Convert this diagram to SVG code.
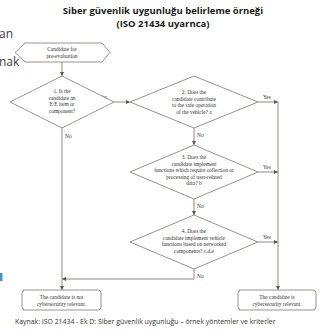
<svg xmlns="http://www.w3.org/2000/svg" width="328" height="331" viewBox="0 0 328 331">
<defs>
<style>
.title{font-family:"Open Sans","Liberation Sans",sans-serif;font-weight:bold;font-size:9.5px;fill:#1a1a1a;text-anchor:middle}
.side{font-family:"Open Sans","Liberation Sans",sans-serif;font-size:12px;fill:#404040}
.cap{font-family:"Open Sans","Liberation Sans",sans-serif;font-size:6.9px;fill:#333}
.shape{fill:#fff;stroke:#9a928c;stroke-width:1}
.nt{font-family:"Liberation Serif",serif;font-size:5.4px;fill:#333;text-anchor:middle}
.lbl{font-family:"Liberation Serif",serif;font-size:5.4px;fill:#333}
.con{fill:none;stroke:#8f8883;stroke-width:1}
</style>
<marker id="ah" viewBox="0 0 6 6" refX="6" refY="3" markerWidth="4" markerHeight="4" orient="auto" markerUnits="userSpaceOnUse">
<path d="M0,0 L6,3 L0,6 Z" fill="#5a5450"/>
</marker>
</defs>
<rect width="328" height="331" fill="#fff"/>
<text class="title" x="163" y="14">Siber güvenlik uygunluğu belirleme örneği</text>
<text class="title" x="163" y="27">(ISO 21434 uyarnca)</text>
<text class="side" x="-1" y="38">an</text>
<text class="side" x="-1" y="66">nak</text>
<rect x="0" y="273" width="2.5" height="8" fill="#4a8fd0"/>

<g id="connectors">
<path class="con" d="M62,62 V76" marker-end="url(#ah)"/>
<path class="con" d="M114,102 H130" marker-end="url(#ah)"/>
<path class="con" d="M258,102 H278" marker-end="url(#ah)"/>
<path class="con" d="M258,172 H278" marker-end="url(#ah)"/>
<path class="con" d="M258,242 H278" marker-end="url(#ah)"/>
<path class="con" d="M278,102 V290" marker-end="url(#ah)"/>
<path class="con" d="M194,128 V145" marker-end="url(#ah)"/>
<path class="con" d="M194,199 V215" marker-end="url(#ah)"/>
<path class="con" d="M194,269 V279 H62" marker-end="url(#ah)"/>
<path class="con" d="M62,128 V290" marker-end="url(#ah)"/>
<text class="lbl" x="99" y="99">Yes</text>
<text class="lbl" x="263" y="99">Yes</text>
<text class="lbl" x="263" y="169">Yes</text>
<text class="lbl" x="263" y="239">Yes</text>
<text class="lbl" x="65" y="138">No</text>
<text class="lbl" x="197" y="137">No</text>
<text class="lbl" x="197" y="208">No</text>
<text class="lbl" x="197" y="278">No</text>
</g>

<g id="start">
<polygon class="shape" points="15,52.5 25,43 102,43 110,52.5 102,62 25,62"/>
<text class="nt" x="62" y="50.5">Candidate for</text>
<text class="nt" x="62" y="57.5">pre-evaluation</text>
</g>

<g id="q1">
<polygon class="shape" points="62,76 114,102 62,128 10,102"/>
<text class="nt" x="62" y="93">1. Is the</text>
<text class="nt" x="62" y="99.5">candidate an</text>
<text class="nt" x="62" y="106">E/E item or</text>
<text class="nt" x="62" y="112.5">component?</text>
</g>

<g id="q2">
<polygon class="shape" points="194,76 258,102 194,128 130,102"/>
<text class="nt" x="194" y="94">2. Does the</text>
<text class="nt" x="194" y="100.5">candidate contribute</text>
<text class="nt" x="194" y="107">to the safe operation</text>
<text class="nt" x="194" y="113.5">of the vehicle? a</text>
</g>

<g id="q3">
<polygon class="shape" points="194,145 258,172 194,199 130,172"/>
<text class="nt" x="194" y="159">3. Does the</text>
<text class="nt" x="194" y="165.5">candidate implement</text>
<text class="nt" x="194" y="172">functions which require collection or</text>
<text class="nt" x="194" y="178.5">processing of user-related</text>
<text class="nt" x="194" y="185">data? b</text>
</g>

<g id="q4">
<polygon class="shape" points="194,215 258,242 194,269 130,242"/>
<text class="nt" x="194" y="233">4. Does the</text>
<text class="nt" x="194" y="239.5">candidate implement vehicle</text>
<text class="nt" x="194" y="246">functions based on networked</text>
<text class="nt" x="194" y="252.5">components? c,d,e</text>
</g>

<g id="not-relevant">
<rect class="shape" x="22" y="290" width="79" height="20" rx="3"/>
<text class="nt" x="61.5" y="298.5">The candidate is not</text>
<text class="nt" x="61.5" y="305.5">cybersecurity relevant.</text>
</g>

<g id="relevant">
<rect class="shape" x="238" y="290" width="78" height="20" rx="3"/>
<text class="nt" x="277" y="298.5">The candidate is</text>
<text class="nt" x="277" y="305.5">cybersecurity relevant.</text>
</g>

<text class="cap" x="15" y="324">Kaynak: ISO 21434 - Ek D: Siber güvenlik uygunluğu – örnek yöntemler ve kriterler</text>
</svg>
